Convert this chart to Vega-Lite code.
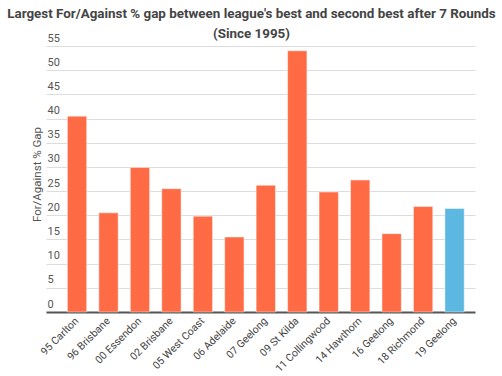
{
  "$schema": "https://vega.github.io/schema/vega-lite/v6.json",
  "autosize": {"type": "none"},
  "width": 429,
  "height": 266,
  "padding": {"left": 46, "top": 46, "right": 27, "bottom": 64},
  "background": "white",
  "title": {
    "text": ["Largest For/Against % gap between league's best and second best after 7 Rounds", "(Since 1995)"],
    "font": "Roboto",
    "fontSize": 13.4,
    "fontWeight": "bold",
    "color": "#444444",
    "lineHeight": 20,
    "anchor": "middle",
    "dx": -9,
    "offset": -8
  },
  "data": {
    "values": [
      {"season": "95 Carlton", "gap": 40.5, "current": "no"},
      {"season": "96 Brisbane", "gap": 20.5, "current": "no"},
      {"season": "00 Essendon", "gap": 29.9, "current": "no"},
      {"season": "02 Brisbane", "gap": 25.5, "current": "no"},
      {"season": "05 West Coast", "gap": 19.8, "current": "no"},
      {"season": "06 Adelaide", "gap": 15.5, "current": "no"},
      {"season": "07 Geelong", "gap": 26.2, "current": "no"},
      {"season": "09 St Kilda", "gap": 54.0, "current": "no"},
      {"season": "11 Collingwood", "gap": 24.8, "current": "no"},
      {"season": "14 Hawthorn", "gap": 27.3, "current": "no"},
      {"season": "16 Geelong", "gap": 16.2, "current": "no"},
      {"season": "18 Richmond", "gap": 21.8, "current": "no"},
      {"season": "19 Geelong", "gap": 21.4, "current": "yes"}
    ]
  },
  "mark": {"type": "bar", "stroke": "white", "strokeWidth": 1, "strokeOpacity": 0.45},
  "encoding": {
    "x": {
      "field": "season",
      "type": "nominal",
      "sort": null,
      "title": null,
      "scale": {"paddingInner": 0.386, "paddingOuter": 0.511, "align": 0.665},
      "axis": {
        "labelAngle": -45,
        "labelAlign": "right",
        "labelBaseline": "middle",
        "labelFont": "Roboto",
        "labelFontSize": 10.5,
        "labelColor": "#444444",
        "labelPadding": 7,
        "ticks": false,
        "domainColor": "#555555",
        "domainWidth": 2
      }
    },
    "y": {
      "field": "gap",
      "type": "quantitative",
      "scale": {"domain": [0, 55], "nice": false},
      "title": "For/Against % Gap",
      "axis": {
        "values": [0, 5, 10, 15, 20, 25, 30, 35, 40, 45, 50, 55],
        "domain": false,
        "ticks": false,
        "grid": true,
        "gridColor": "#dddddd",
        "gridWidth": 1,
        "labelAlign": "left",
        "labelBaseline": "bottom",
        "labelPadding": -1,
        "labelOffset": -3,
        "labelFont": "Roboto",
        "labelFontSize": 11,
        "labelColor": "#555555",
        "titleFont": "Roboto",
        "titleFontSize": 11.5,
        "titleFontWeight": "normal",
        "titleColor": "#555555",
        "titleAngle": -90,
        "titleAlign": "center",
        "titleBaseline": "middle",
        "titleX": -9,
        "titleY": 128
      }
    },
    "color": {
      "field": "current",
      "type": "nominal",
      "scale": {"domain": ["no", "yes"], "range": ["#ff6b45", "#5cb8e0"]},
      "legend": null
    }
  },
  "config": {"view": {"stroke": null}}
}
